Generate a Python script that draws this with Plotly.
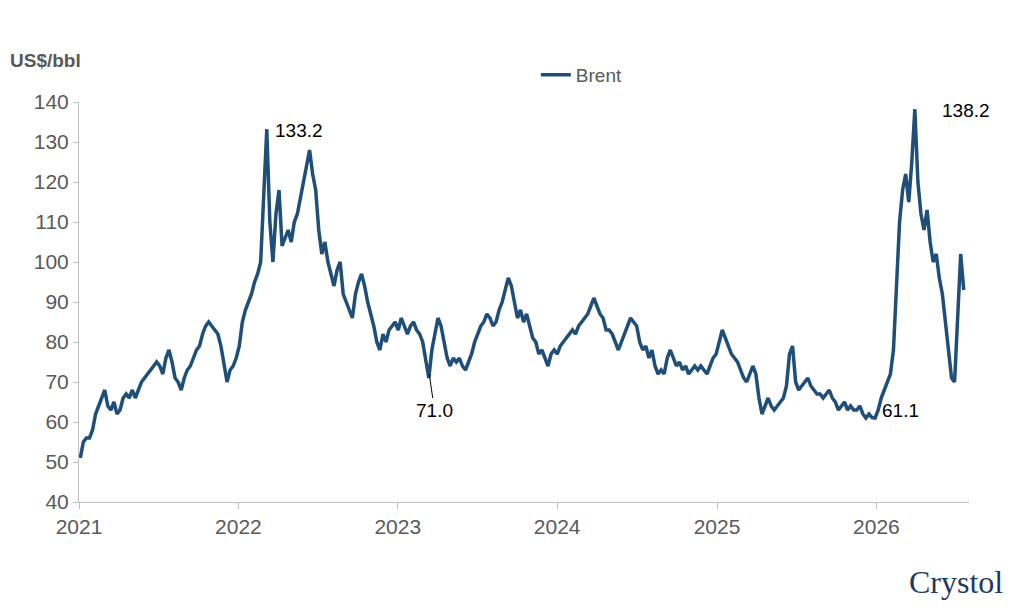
import pandas as pd
import plotly.graph_objects as go

# weekly Brent, US$/bbl
brent_2021 = [51, 55, 56, 56, 58, 62, 64, 66, 68, 64, 63, 65, 62, 63, 66, 67, 66, 68, 66, 68,
              70, 71, 72, 73, 74, 75, 74, 72, 76, 78, 75, 71, 70, 68, 71, 73, 74, 76, 78, 79,
              82, 84, 85, 84, 83, 82, 79, 74, 70, 73, 74, 76]
brent_2022 = [79, 85, 88, 90, 92, 95, 97, 100, 118, 133.2, 110, 100, 112, 118, 104, 106, 108, 105, 110, 112,
              116, 120, 125, 128, 122, 118, 108, 102, 105, 100, 97, 94, 98, 100, 92, 90, 88, 86, 92, 95,
              97, 94, 90, 87, 84, 80, 78, 82, 80, 83, 84, 85]
brent_2023 = [83, 86, 84, 82, 84, 85, 83, 82, 80, 75, 71.0, 78, 82, 86, 84, 80, 76, 74, 76, 75,
              76, 74, 73, 75, 77, 80, 82, 84, 85, 87, 86, 84, 85, 88, 90, 93, 96, 94, 90, 86,
              88, 85, 87, 84, 81, 80, 77, 78, 76, 74, 77, 78]
brent_2024 = [77, 79, 80, 81, 82, 83, 82, 84, 85, 86, 87, 89, 91, 89, 87, 86, 83, 83, 82, 80,
              78, 80, 82, 84, 86, 85, 84, 80, 78, 79, 76, 78, 74, 72, 73, 72, 76, 78, 76, 74,
              75, 73, 74, 72, 73, 74, 73, 74, 73, 72, 74, 76]
brent_2025 = [77, 80, 83, 81, 79, 77, 76, 75, 73, 71, 70, 72, 74, 72, 66, 62, 64, 66, 64, 63,
              64, 65, 66, 69, 77, 79, 70, 68, 69, 70, 71, 69, 68, 67, 67, 66, 67, 68, 66, 65,
              63, 64, 65, 63, 64, 63, 63, 64, 62, 61, 62, 61.1]
brent_2026 = [61, 63, 66, 68, 70, 72, 78, 95, 110, 118, 122, 115, 125, 138.2, 120, 112, 108, 113, 105, 100,
              102, 96, 92, 85, 78, 71, 70, 85, 102, 93]

values = brent_2021 + brent_2022 + brent_2023 + brent_2024 + brent_2025 + brent_2026
dates = pd.date_range(start="2021-01-04", periods=len(values), freq="W-MON")

labels = ["133.2", "71.0", "138.2", "61.1"]
label_x = ["2022-05-20", "2023-03-25", "2026-07-25", "2026-02-25"]
label_y = [133, 63, 138, 63]

gray = "#595959"
fig = go.Figure()
fig.add_trace(go.Scatter(x=dates, y=values, mode="lines", name="Brent", showlegend=True,
                         line=dict(color="#1f4e79", width=3.5)))

for t, x, y in zip(labels, label_x, label_y):
    fig.add_annotation(x=x, y=y, text=t, showarrow=False,
                       font=dict(size=19, color="black", family="Arial, Liberation Sans"))
fig.add_shape(type="line", x0="2023-03-14", y0=72, x1="2023-03-22", y1=66,
              line=dict(color="black", width=1))

fig.add_annotation(xref="paper", yref="paper", x=-0.08, y=1.135, text="<b>US$/bbl</b>",
                   showarrow=False, xanchor="left",
                   font=dict(size=19, color=gray, family="Arial, Liberation Sans"))
fig.add_annotation(xref="paper", yref="paper", x=1.04, y=-0.15, text="Crystol",
                   showarrow=False, xanchor="right", yanchor="top",
                   font=dict(size=32, color="#1f3864", family="Liberation Serif"))

tick_font = dict(size=21, color=gray, family="Arial, Liberation Sans")
fig.update_layout(
    width=1024, height=614, plot_bgcolor="white", paper_bgcolor="white",
    margin=dict(l=71, r=63, t=94, b=120),
    font=dict(family="Arial, Liberation Sans", color=gray, size=19),
    legend=dict(orientation="h", x=0.565, xanchor="center", y=1.02, yanchor="bottom",
                font=dict(size=19, color=gray)),
    xaxis=dict(range=["2021-01-01", "2026-08-01"], showgrid=False, showline=True,
               linecolor="#bfbfbf", ticks="outside", tickcolor="#bfbfbf", ticklen=6,
               dtick="M12", tickformat="%Y", tick0="2021-01-01", tickfont=tick_font),
    yaxis=dict(range=[40, 140], dtick=10, showgrid=False, showline=True,
               linecolor="#bfbfbf", ticks="outside", tickcolor="#bfbfbf", ticklen=5,
               zeroline=False, tickfont=tick_font),
)
fig.write_html("out.html")
